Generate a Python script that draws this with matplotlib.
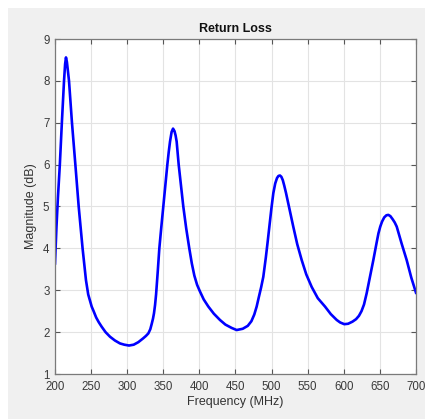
import matplotlib.pyplot as plt
from matplotlib.patches import Rectangle

# return loss sweep, MHz vs dB
freq = [200, 202, 204, 206.7, 209.5, 212.5, 214, 215.2, 216.5, 217.8,
        219.4, 223.5, 228.2, 232.8, 238.2, 242.9, 246, 250.8, 253.5, 257,
        260.5, 264.6, 270, 276.2, 283, 290, 296, 302.5, 309, 315.4,
        322, 326, 329.3, 332, 334, 335.7, 337.1, 338.6, 340, 342.2,
        344.5, 347.2, 350, 352.8, 355.6, 357.5, 359.3, 361.5, 363.5, 365.5,
        367, 368.5, 371.3, 374.5, 377.7, 381.7, 386, 389.5, 393, 396.8,
        400.8, 406, 412.4, 420, 428.5, 436, 444.7, 451.6, 460, 467,
        472, 476, 479.3, 482.5, 485.5, 488.5, 492, 494.5, 496.9, 499.7,
        502.4, 505, 507.5, 509.5, 511.6, 513.5, 515.5, 517.5, 520, 525,
        530, 535.5, 541.7, 548, 555.5, 564, 574, 582, 590.2, 595,
        600.7, 606, 612, 617, 621, 624.5, 628, 631.7, 636, 640.9,
        645.5, 648, 650.5, 653, 656, 659, 661.7, 664.5, 667.5, 670.5,
        673.3, 680, 687.1, 693.5, 700]
mag = [3.64, 4.5, 5.2, 6.0, 7.0, 8.0, 8.4, 8.56, 8.45, 8.25,
       8.0, 7.0, 6.0, 5.0, 4.0, 3.24, 2.9, 2.61, 2.5, 2.35,
       2.24, 2.13, 2.0, 1.89, 1.8, 1.73, 1.70, 1.68, 1.70, 1.76,
       1.85, 1.91, 1.97, 2.07, 2.2, 2.32, 2.45, 2.65, 2.9, 3.42,
       4.0, 4.5, 5.0, 5.5, 6.0, 6.3, 6.55, 6.78, 6.86, 6.8,
       6.7, 6.55, 6.0, 5.5, 5.0, 4.48, 4.0, 3.64, 3.35, 3.13,
       2.97, 2.78, 2.61, 2.44, 2.29, 2.18, 2.10, 2.05, 2.08, 2.15,
       2.26, 2.42, 2.61, 2.85, 3.07, 3.32, 3.78, 4.15, 4.52, 4.95,
       5.32, 5.55, 5.68, 5.73, 5.74, 5.71, 5.63, 5.50, 5.32, 4.92,
       4.52, 4.1, 3.72, 3.38, 3.08, 2.81, 2.61, 2.43, 2.29, 2.23,
       2.19, 2.2, 2.25, 2.31, 2.39, 2.5, 2.66, 2.93, 3.3, 3.72,
       4.14, 4.36, 4.52, 4.64, 4.74, 4.79, 4.80, 4.77, 4.70, 4.62,
       4.52, 4.12, 3.72, 3.3, 2.94]

xticks = list(range(200, 701, 50))
yticks = list(range(1, 10))

plt.rcParams['font.family'] = ['Liberation Sans', 'DejaVu Sans']

fig = plt.figure(figsize=(4.25, 4.19), dpi=100)
fig.patch.set_facecolor('white')
# grey figure panel behind the axes
fig.patches.append(Rectangle((8 / 425, 0), 1, (419 - 8) / 419,
                             transform=fig.transFigure, facecolor='#f0f0f0',
                             edgecolor='none', zorder=-10))

ax = fig.add_axes([55 / 425, 45 / 419, 361 / 425, 335 / 419])
ax.set_facecolor('white')
ax.plot(freq, mag, color='#0000ff', linewidth=1.9, solid_joinstyle='round')

ax.set_xlim(200, 700)
ax.set_ylim(1, 9)
ax.set_xticks(xticks)
ax.set_yticks(yticks)
ax.grid(True, color='#e3e3e3', linewidth=0.8)
ax.set_axisbelow(True)

for s in ax.spines.values():
    s.set_color('#7a7a7a')
    s.set_linewidth(0.9)
ax.tick_params(direction='in', length=3.5, width=0.8, color='#555555',
               labelsize=8.3, labelcolor='#3a3a3a', top=True, right=True,
               pad=4)
ax.tick_params(axis='x', pad=5)

ax.set_title('Return Loss', fontsize=9, fontweight='bold', color='#111111', pad=5)
ax.set_xlabel('Frequency (MHz)', fontsize=9, color='#333333', labelpad=2)
ax.set_ylabel('Magnitude (dB)', fontsize=9, color='#333333', labelpad=4)

fig.savefig('out.png', dpi=100)
